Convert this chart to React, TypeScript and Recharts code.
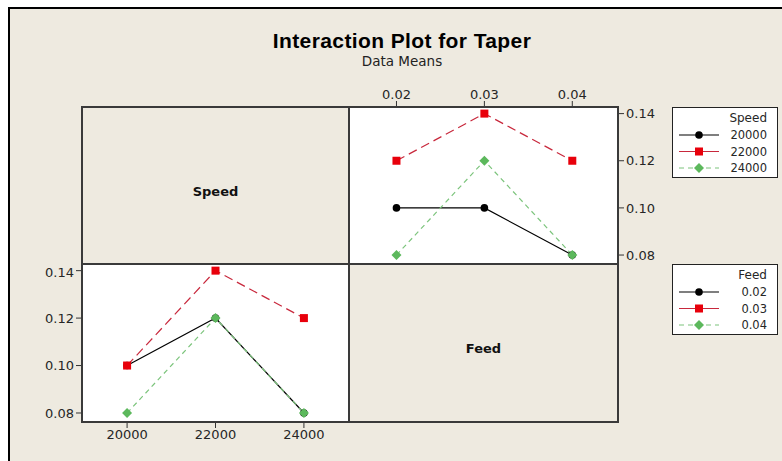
import React from 'react';
import { LineChart, Line, XAxis, YAxis } from 'recharts';

// levels of the two factors
const feedLevels = [0.02, 0.03, 0.04];
const speedLevels = [20000, 22000, 24000];
const taperTicks = [0.08, 0.1, 0.12, 0.14];

// mean taper for each speed, across feed levels
const speed20000 = [0.1, 0.1, 0.08];
const speed22000 = [0.12, 0.14, 0.12];
const speed24000 = [0.08, 0.12, 0.08];

// mean taper for each feed, across speed levels
const feed002 = [0.1, 0.12, 0.08];
const feed003 = [0.1, 0.14, 0.12];
const feed004 = [0.08, 0.12, 0.08];

const speedLabels = ['20000', '22000', '24000'];
const feedLabels = ['0.02', '0.03', '0.04'];

const BG = '#eeeae0';
const FONT = 'DejaVu Sans, Verdana, sans-serif';

const styles = [
  { stroke: '#000000', fill: '#000000', dash: undefined as string | undefined, shape: 'circle' },
  { stroke: '#c8283c', fill: '#e8000b', dash: '9 5', shape: 'square' },
  { stroke: '#7cc47c', fill: '#5cb85c', dash: '5 4', shape: 'diamond' },
];

function marker(shape: string, cx: number, cy: number, fill: string, key?: React.Key) {
  if (shape === 'square') return <rect key={key} x={cx - 4} y={cy - 4} width={8} height={8} fill={fill} />;
  if (shape === 'diamond')
    return (
      <polygon
        key={key}
        points={`${cx},${cy - 5} ${cx + 5},${cy} ${cx},${cy + 5} ${cx - 5},${cy}`}
        fill={fill}
      />
    );
  return <circle key={key} cx={cx} cy={cy} r={3.8} fill={fill} />;
}

const speedData = feedLevels.map((f, i) => ({
  x: f,
  s0: speed20000[i],
  s1: speed22000[i],
  s2: speed24000[i],
}));

const feedData = speedLevels.map((s, i) => ({
  x: s,
  s0: feed002[i],
  s1: feed003[i],
  s2: feed004[i],
}));

const tickStyle = { fontSize: 13, fontFamily: FONT, fill: '#262626' };

function seriesLines() {
  return styles.map((st, i) => (
    <Line
      key={i}
      dataKey={'s' + i}
      type="linear"
      stroke={st.stroke}
      strokeWidth={1.2}
      strokeDasharray={st.dash}
      isAnimationActive={false}
      dot={(p: any) => marker(st.shape, p.cx, p.cy, st.fill, p.index)}
      activeDot={false}
    />
  ));
}

function LegendBox({ left, top, title, labels }: { left: number; top: number; title: string; labels: string[] }) {
  return (
    <svg
      width={106}
      height={71}
      style={{ position: 'absolute', left, top, background: '#fff', border: '1px solid #222', boxSizing: 'border-box' }}
    >
      <text x={94} y={14} textAnchor="end" fontSize={12} fontFamily={FONT} fill="#262626">
        {title}
      </text>
      {labels.map((lab, i) => {
        const st = styles[i];
        const y = 27 + i * 16.5;
        return (
          <g key={lab}>
            <line
              x1={6}
              x2={46}
              y1={y}
              y2={y}
              stroke={st.stroke}
              strokeWidth={1.2}
              strokeDasharray={i === 2 ? '5 4' : undefined}
            />
            {marker(st.shape, 26, y, st.fill)}
            <text x={94} y={y + 4} textAnchor="end" fontSize={11.5} fontFamily={FONT} fill="#262626">
              {lab}
            </text>
          </g>
        );
      })}
    </svg>
  );
}

export default function App() {
  const abs = (l: number, t: number, w: number, h: number, extra: React.CSSProperties = {}) =>
    ({ position: 'absolute', left: l, top: t, width: w, height: h, ...extra } as React.CSSProperties);

  return (
    <div style={abs(0, 0, 782, 461, { background: '#fff', overflow: 'hidden' })}>
      <div
        style={abs(8, 7, 800, 480, {
          background: BG,
          borderTop: '2px solid #000',
          borderLeft: '2px solid #000',
        })}
      />
      <div
        style={abs(0, 29, 804, 24, {
          textAlign: 'center',
          fontFamily: 'Liberation Sans Narrow, Arial Narrow, sans-serif',
          fontWeight: 'bold',
          fontSize: 21,
          letterSpacing: 0.4,
          color: '#000',
          lineHeight: '24px',
        })}
      >
        Interaction Plot for Taper
      </div>
      <div
        style={abs(0, 52, 804, 18, {
          textAlign: 'center',
          fontFamily: FONT,
          fontSize: 13.5,
          color: '#222',
          lineHeight: '18px',
        })}
      >
        Data Means
      </div>

      {/* panel fills */}
      <div style={abs(82, 107, 267, 157, { background: BG })} />
      <div style={abs(349, 107, 269, 157, { background: '#fff' })} />
      <div style={abs(82, 264, 267, 158, { background: '#fff' })} />
      <div style={abs(349, 264, 269, 158, { background: BG })} />

      <div style={abs(82, 184, 267, 16, { textAlign: 'center', fontFamily: FONT, fontWeight: 'bold', fontSize: 13, color: '#111', lineHeight: '16px' })}>
        Speed
      </div>
      <div style={abs(349, 341, 269, 16, { textAlign: 'center', fontFamily: FONT, fontWeight: 'bold', fontSize: 13, color: '#111', lineHeight: '16px' })}>
        Feed
      </div>

      {/* Feed on x, one line per Speed */}
      <div style={abs(349, 77, 319, 187)}>
        <LineChart width={319} height={187} data={speedData} margin={{ top: 0, right: 0, bottom: 0, left: 0 }}>
          <XAxis
            dataKey="x"
            type="number"
            orientation="top"
            height={30}
            domain={[0.0146, 0.0452]}
            ticks={feedLevels}
            tickFormatter={(v: number) => v.toFixed(2)}
            axisLine={false}
            tickLine={{ stroke: '#333' }}
            tick={tickStyle}
            allowDataOverflow
          />
          <YAxis
            type="number"
            orientation="right"
            width={50}
            domain={[0.0762, 0.1428]}
            ticks={taperTicks}
            tickFormatter={(v: number) => v.toFixed(2)}
            axisLine={false}
            tickLine={{ stroke: '#333' }}
            tick={tickStyle}
            allowDataOverflow
          />
          {seriesLines()}
        </LineChart>
      </div>

      {/* Speed on x, one line per Feed */}
      <div style={abs(32, 264, 317, 188)}>
        <LineChart width={317} height={188} data={feedData} margin={{ top: 0, right: 0, bottom: 0, left: 0 }}>
          <XAxis
            dataKey="x"
            type="number"
            height={30}
            domain={[18980, 25020]}
            ticks={speedLevels}
            axisLine={false}
            tickLine={{ stroke: '#333' }}
            tick={tickStyle}
            allowDataOverflow
          />
          <YAxis
            type="number"
            width={50}
            domain={[0.0762, 0.1428]}
            ticks={taperTicks}
            tickFormatter={(v: number) => v.toFixed(2)}
            axisLine={false}
            tickLine={{ stroke: '#333' }}
            tick={tickStyle}
            allowDataOverflow
          />
          {seriesLines()}
        </LineChart>
      </div>

      {/* panel borders */}
      <div style={abs(81, 106, 538, 317, { border: '2px solid #3a3a3a', boxSizing: 'border-box' })} />
      <div style={abs(348, 106, 2, 317, { background: '#3a3a3a' })} />
      <div style={abs(81, 263, 538, 2, { background: '#3a3a3a' })} />

      <LegendBox left={672} top={107} title="Speed" labels={speedLabels} />
      <LegendBox left={672} top={264} title="Feed" labels={feedLabels} />
    </div>
  );
}
